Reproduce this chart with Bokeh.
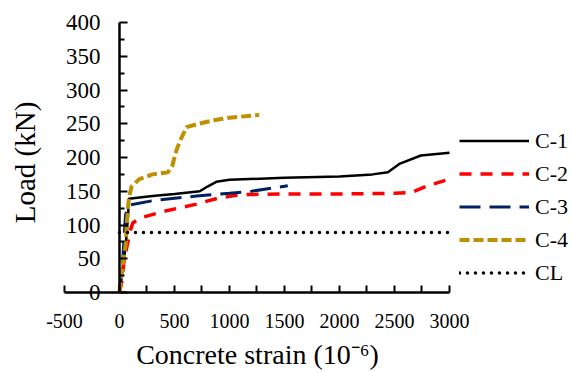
import math
from bokeh.plotting import figure
from bokeh.models import (Range1d, LinearAxis, FixedTicker, Legend, LegendItem, Label)
from bokeh.embed import file_html
from bokeh.resources import INLINE

# ---- data ----
c1_x = [0, 20, 45, 65, 80, 85, 300, 500, 730, 800, 880, 1000, 1500, 2000, 2300, 2440, 2550, 2740, 3000]
c1_y = [0, 25, 55, 85, 120, 139, 143, 146, 150, 157, 164, 167, 170, 172, 175, 178, 191, 203, 207]

c2_x = [0, 20, 40, 70, 95, 120, 200, 400, 700, 900, 1100, 1500, 2000, 2500, 2650, 2800, 3000]
c2_y = [0, 15, 45, 70, 90, 103, 111, 120, 131, 140, 145, 146, 146, 147, 148, 158, 168]

c3_x = [0, 15, 30, 45, 55, 75, 100, 300, 700, 1000, 1200, 1400, 1530]
c3_y = [0, 20, 50, 90, 115, 126, 130, 136, 143, 147, 150, 155, 158]

c4_x = [0, 25, 55, 70, 85, 110, 180, 300, 440, 480, 520, 560, 610, 720, 850, 1000, 1270]
c4_y = [0, 35, 70, 110, 140, 157, 168, 175, 178, 188, 212, 228, 245, 250, 255, 259, 263]

cl_x = [0, 3000]
cl_y = [89, 89]

x_ticks = [-500, 0, 500, 1000, 1500, 2000, 2500, 3000]
x_minor = [250, 750, 1250, 1750, 2250, 2750]
y_ticks = [0, 50, 100, 150, 200, 250, 300, 350, 400]
y_minor = [25, 75, 125, 175, 225, 275, 325, 375]

series_names = ["C-1", "C-2", "C-3", "C-4", "CL"]
x_title = "Concrete strain (10\u207b\u2076)"
y_title = "Load (kN)"

FONT = "Liberation Serif"

# The frame fills the whole canvas; axes are placed at 0 with bounds,
# so ticks, labels, titles and legend all live inside the frame.
W, H = 572, 372
p = figure(width=W, height=H, output_backend="svg", toolbar_location=None,
           x_range=Range1d(-1081.8, 4118.2), y_range=Range1d(-118.5, 432.6),
           x_axis_location=None, y_axis_location=None,
           min_border=0)
p.outline_line_color = None
p.xgrid.visible = False
p.ygrid.visible = False
p.background_fill_color = "white"
p.border_fill_color = "white"

# x axis at y = 0
xa = LinearAxis(fixed_location=0, bounds=(-500, 3000),
                ticker=FixedTicker(ticks=x_ticks, minor_ticks=x_minor))
xa.major_label_overrides = {-500: "-500"}
xa.axis_line_width = 2.5
xa.axis_line_color = "black"
xa.major_tick_in = 7
xa.major_tick_out = 0
xa.minor_tick_in = 7
xa.minor_tick_out = 0
xa.major_tick_line_width = 2
xa.minor_tick_line_width = 2
xa.major_label_text_font = FONT
xa.major_label_text_font_size = "20px"
xa.major_label_text_color = "black"
xa.major_label_standoff = 21
p.add_layout(xa, "below")

# y axis at x = 0
ya = LinearAxis(fixed_location=0, bounds=(0, 400),
                ticker=FixedTicker(ticks=y_ticks, minor_ticks=y_minor))
ya.axis_line_width = 2.5
ya.axis_line_color = "black"
ya.major_tick_in = 8
ya.major_tick_out = 0
ya.minor_tick_in = 5
ya.minor_tick_out = 0
ya.major_tick_line_width = 2
ya.minor_tick_line_width = 2
ya.major_label_text_font = FONT
ya.major_label_text_font_size = "23px"
ya.major_label_text_color = "black"
ya.major_label_standoff = 19
p.add_layout(ya, "left")

r1 = p.line(c1_x, c1_y, line_color="black", line_width=2.5)
r2 = p.line(c2_x, c2_y, line_color="#FF0000", line_width=3.5, line_dash="12 9")
r3 = p.line(c3_x, c3_y, line_color="#002060", line_width=3, line_dash="21 9")
r4 = p.line(c4_x, c4_y, line_color="#BF9000", line_width=4, line_dash="10 4")
r5 = p.line(cl_x, cl_y, line_color="black", line_width=3.5, line_dash="0 8", line_cap="round")

legend = Legend(items=[LegendItem(label=n, renderers=[r]) for n, r in zip(series_names, [r1, r2, r3, r4, r5])],
                location=(459, 83), glyph_width=70, glyph_height=33, label_height=33,
                spacing=0, padding=0, margin=0, label_standoff=6,
                label_text_font=FONT, label_text_font_size="22px", label_text_color="black",
                border_line_color=None, background_fill_alpha=0)
p.add_layout(legend, "center")

p.add_layout(Label(x=257, y=18, x_units="screen", y_units="screen", text=x_title,
                   text_align="center", text_baseline="alphabetic",
                   text_font=FONT, text_font_size="28px", text_color="black"))
p.add_layout(Label(x=24, y=210, x_units="screen", y_units="screen", text=y_title,
                   angle=math.pi / 2, text_align="center", text_baseline="middle",
                   text_font=FONT, text_font_size="29px", text_color="black"))

open("out.html", "w").write(file_html(p, INLINE))
